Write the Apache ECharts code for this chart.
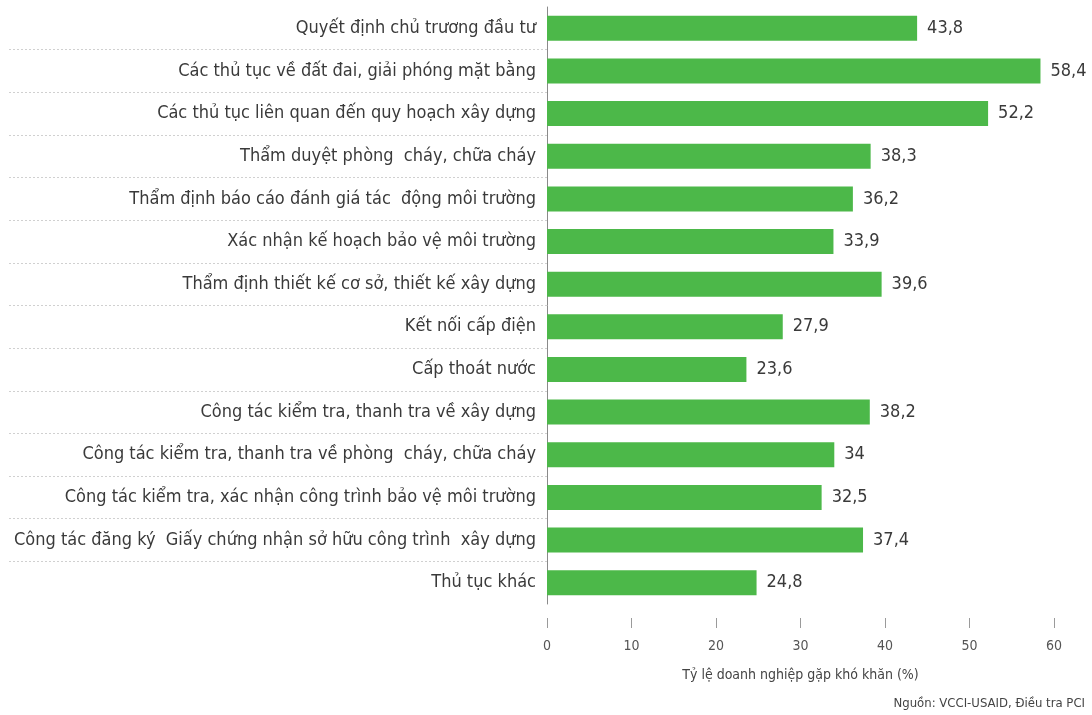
<!DOCTYPE html>
<html>
<head>
<meta charset="utf-8">
<script src="https://cdn.jsdelivr.net/npm/echarts@6/dist/echarts.min.js"></script>
<style>
  html, body { margin: 0; padding: 0; background: #fff; }
  #chart { width: 1092px; height: 715px; }
</style>
</head>
<body>
<div id="chart"></div>
<script>
// Thủ tục hành chính và tỷ lệ doanh nghiệp gặp khó khăn (%)
const categories = [
  'Quyết định chủ trương đầu tư',
  'Các thủ tục về đất đai, giải phóng mặt bằng',
  'Các thủ tục liên quan đến quy hoạch xây dựng',
  'Thẩm duyệt phòng  cháy, chữa cháy',
  'Thẩm định báo cáo đánh giá tác  động môi trường',
  'Xác nhận kế hoạch bảo vệ môi trường',
  'Thẩm định thiết kế cơ sở, thiết kế xây dựng',
  'Kết nối cấp điện',
  'Cấp thoát nước',
  'Công tác kiểm tra, thanh tra về xây dựng',
  'Công tác kiểm tra, thanh tra về phòng  cháy, chữa cháy',
  'Công tác kiểm tra, xác nhận công trình bảo vệ môi trường',
  'Công tác đăng ký  Giấy chứng nhận sở hữu công trình  xây dựng',
  'Thủ tục khác'
];
const values = [43.8, 58.4, 52.2, 38.3, 36.2, 33.9, 39.6, 27.9, 23.6, 38.2, 34, 32.5, 37.4, 24.8];
const xTicks = { min: 0, max: 60, interval: 10 };
const axisTitle = 'Tỷ lệ doanh nghiệp gặp khó khăn (%)';
const sourceNote = 'Nguồn: VCCI-USAID, Điều tra PCI';

// row boundaries between categories (for the dotted separators)
const rowBoundaries = categories.slice(1).map((_, i) => i + 1);

const FONT = '"DejaVu Sans Condensed", "Liberation Sans", sans-serif';
const TEXT = '#3a3a3a';

const chart = echarts.init(document.getElementById('chart'), null, { renderer: 'canvas' });

chart.setOption({
  backgroundColor: '#ffffff',
  animation: false,
  textStyle: { fontFamily: FONT },
  grid: { left: 547, right: 38, top: 7, bottom: 111, containLabel: false },
  xAxis: {
    type: 'value',
    min: xTicks.min,
    max: xTicks.max,
    interval: xTicks.interval,
    position: 'bottom',
    offset: 14,
    axisLine: { show: false, onZero: false },
    axisTick: { show: true, length: 10, lineStyle: { color: '#9a9a9a', width: 1 } },
    axisLabel: { fontSize: 14, color: '#555', margin: 21, fontFamily: FONT },
    splitLine: { show: false },
    name: axisTitle,
    nameLocation: 'middle',
    nameGap: 50,
    nameTextStyle: { fontSize: 14, color: '#444', fontFamily: FONT }
  },
  yAxis: [
    {
      type: 'category',
      data: categories,
      inverse: true,
      axisLine: { show: true, onZero: false, lineStyle: { color: '#8a8a8a', width: 1 } },
      axisTick: { show: false },
      axisLabel: { fontSize: 18, color: TEXT, margin: 11, fontFamily: FONT }
    },
    {
      type: 'value',
      min: 0,
      max: categories.length,
      inverse: true,
      position: 'left',
      axisLine: { show: false, onZero: false },
      axisLabel: { show: false },
      splitLine: { show: false },
      axisTick: {
        show: true,
        customValues: rowBoundaries,
        length: 538,
        lineStyle: { color: '#d0d0d0', width: 1, type: [2, 2] }
      }
    }
  ],
  series: [
    {
      type: 'bar',
      yAxisIndex: 0,
      data: values,
      barWidth: 25,
      itemStyle: { color: '#4cb849' },
      label: {
        show: true,
        position: 'right',
        distance: 10,
        fontSize: 18,
        color: TEXT,
        fontFamily: FONT,
        formatter: (p) => String(p.value).replace('.', ',')
      }
    }
  ],
  graphic: [
    {
      type: 'text',
      right: 7,
      top: 697,
      style: { text: sourceNote, fontSize: 13, fill: '#444', fontFamily: FONT }
    }
  ]
});
</script>
</body>
</html>
